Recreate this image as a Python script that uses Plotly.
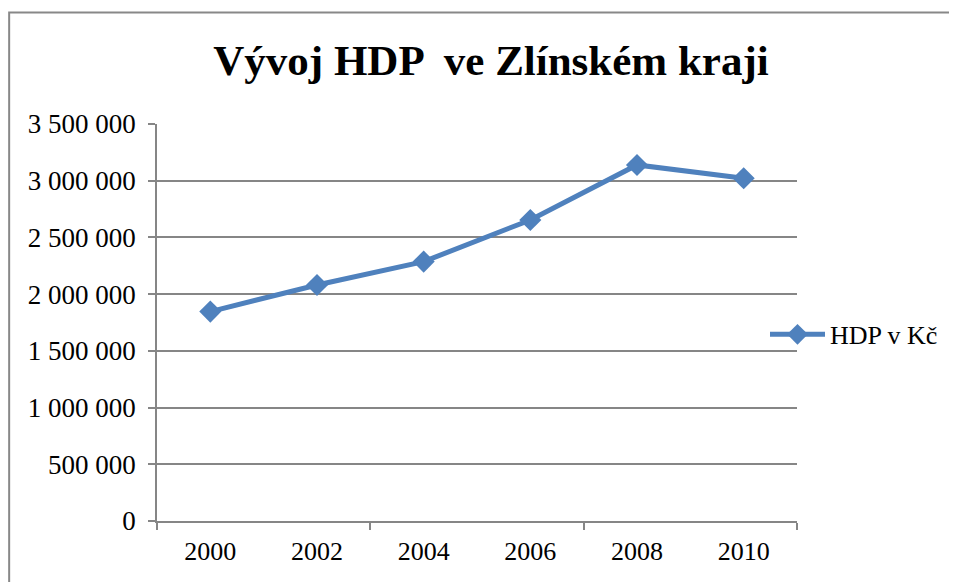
import plotly.graph_objects as go

years = [2000, 2002, 2004, 2006, 2008, 2010]
hdp = [1846000, 2081000, 2287000, 2654000, 3139000, 3022000]
series_name = "HDP v Kč"
title_text = "Vývoj HDP  ve Zlínském kraji"
y_ticks = [0, 500000, 1000000, 1500000, 2000000, 2500000, 3000000, 3500000]
y_labels = ["0", "500 000", "1 000 000", "1 500 000", "2 000 000", "2 500 000", "3 000 000", "3 500 000"]

color = "#4F81BD"
grid = "#868686"
font = "Liberation Serif"

fig = go.Figure()
fig.add_trace(go.Scatter(
    x=years, y=hdp, name=series_name, mode="lines+markers",
    line=dict(color=color, width=5),
    marker=dict(symbol="diamond", size=17, color=color),
))

fig.update_layout(
    width=957, height=582,
    margin=dict(l=149, r=168, t=116, b=69, autoexpand=False),
    paper_bgcolor="white", plot_bgcolor="white",
    font=dict(family=font, size=26, color="black"),
    title=dict(text="<b>" + title_text + "</b>", x=0.5047, xanchor="center",
               y=0.911, yanchor="middle", font=dict(family=font, size=43, color="black")),
    showlegend=True,
    legend=dict(x=0.95, xanchor="left", y=0.47, yanchor="middle", font=dict(size=26),
                itemwidth=55, bgcolor="rgba(0,0,0,0)"),
    xaxis=dict(range=[1999, 2011], tickvals=years, ticktext=[str(y) for y in years],
               showgrid=False, zeroline=False, showline=True, linecolor=grid, linewidth=1.5,
               ticks="", ticklabelstandoff=6, automargin=False,
               minor=dict(tickvals=[1999, 2003, 2007, 2011], ticks="outside", ticklen=7,
                          tickcolor=grid, tickwidth=1.5, showgrid=False)),
    yaxis=dict(range=[0, 3500000], tickvals=y_ticks, ticktext=y_labels, automargin=False,
               showgrid=True, gridcolor=grid, gridwidth=1.5, zeroline=False,
               showline=True, linecolor=grid, linewidth=1.5,
               ticks="outside", ticklen=7, tickcolor=grid, tickwidth=1.5, ticklabelstandoff=7,
               tickfont=dict(size=27)),
    shapes=[dict(type="rect", xref="paper", yref="paper", x0=-0.231, x1=1.5, y0=-0.5, y1=1.281,
                 line=dict(color="#888888", width=2), fillcolor="rgba(0,0,0,0)", layer="below")],
)

fig.write_html("out.html")
